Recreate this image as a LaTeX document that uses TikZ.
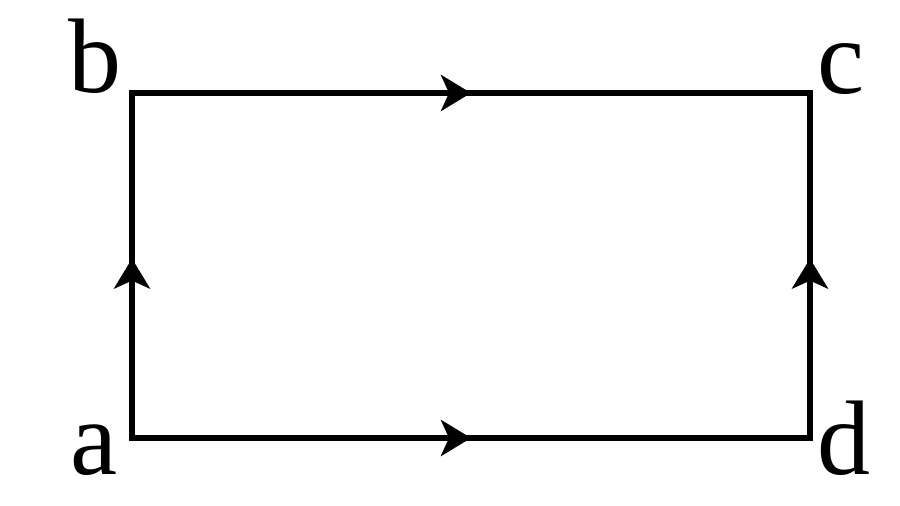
\documentclass[tikz,border=0pt]{standalone}
\usepackage{fontspec}
\setmainfont{Liberation Serif}
\usetikzlibrary{arrows.meta,decorations.markings}
\begin{document}
\begin{tikzpicture}[x=1pt,y=-1pt,
  edge/.style={line width=6pt,line cap=rect,
    postaction={decorate},
    decoration={markings,mark=at position #1 with {\arrow{Stealth[length=30pt,width=36pt,inset=8pt]}}}},
  edge/.default=0.5,
  lbl/.style={inner sep=0pt,anchor=base,font=\fontsize{106}{120}\selectfont}]
\useasboundingbox (0,0) rectangle (900,506);
\coordinate (a) at (132,438);
\coordinate (b) at (132,93);
\coordinate (c) at (810,93);
\coordinate (d) at (810,438);
\node[lbl] (la) at (94,474) {a};
\node[lbl] (lb) at (95,92) {b};
\node[lbl] (lc) at (841,93) {c};
\node[lbl] (ld) at (844,474) {d};
\draw[edge=0.52] (a) -- (b);
\draw[edge=0.5] (b) -- (c);
\draw[edge=0.5] (a) -- (d);
\draw[edge=0.52] (d) -- (c);
\end{tikzpicture}
\end{document}
